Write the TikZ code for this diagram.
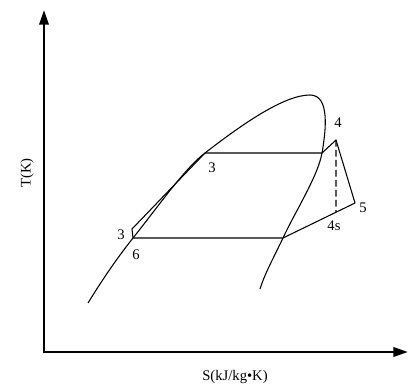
\documentclass[tikz,border=0pt]{standalone}
\usepackage{fontspec}
\setmainfont{Liberation Serif}
\usetikzlibrary{arrows.meta, calc}

\begin{document}
\begin{tikzpicture}[
  x=0.75pt, y=-0.75pt,
  axis/.style={line width=1.9pt, -{Triangle[length=11pt,width=7pt]}},
  curve/.style={line width=0.8pt},
  lbl/.style={font=\fontsize{11}{13}\selectfont, inner sep=1pt}
]
\useasboundingbox (0,0) rectangle (409,384);

% axes
\coordinate (o) at (44,352);
\coordinate (ytip) at (44,10);
\coordinate (xtip) at (408,352);
\draw[axis] ([yshift=-0.95pt]o) -- (ytip);
\draw[axis] ([xshift=-0.95pt]o) -- (xtip);
\node[lbl, rotate=90] (tlab) at (27,173) {T(K)};
\node[lbl] (slab) at (235,377) {S(kJ/kg•K)};

% cycle points
\coordinate (p6) at (133,238);
\coordinate (p3a) at (132,229);
\coordinate (p3) at (205,153);
\coordinate (pa) at (322,153);
\coordinate (p4) at (336,140);
\coordinate (p5) at (355,203);
\coordinate (pb) at (283,238);
\coordinate (p4s) at ($(p5)!0.264!(pb)$);
\coordinate (top) at (310,95);

% saturation dome
\draw[curve] (88,303) .. controls (104,277) and (118,257) .. (p6)
  .. controls (157,208) and (185,168) .. (p3)
  .. controls (245,122) and (285,95) .. (top)
  .. controls (330,95) and (326,130) .. (pa)
  .. controls (318,176) and (295,212) .. (pb)
  .. controls (274,257) and (265,273) .. (260,289);

% cycle
\draw[curve, line join=round] (p6) -- (p3a) -- (p3) -- (pa) -- (p4) -- (p5) -- (pb) -- (p6);
\draw[curve, dash pattern=on 5pt off 2.5pt] (p4) -- (p4s);

% labels
\node[lbl] (l4) at (338,123) {4};
\node[lbl] (l3) at (212,168) {3};
\node[lbl] (l5) at (363,208) {5};
\node[lbl] (l4s) at (334,226) {4s};
\node[lbl] (l3a) at (121,235) {3};
\node[lbl] (l6) at (136,255) {6};
\end{tikzpicture}
\end{document}
